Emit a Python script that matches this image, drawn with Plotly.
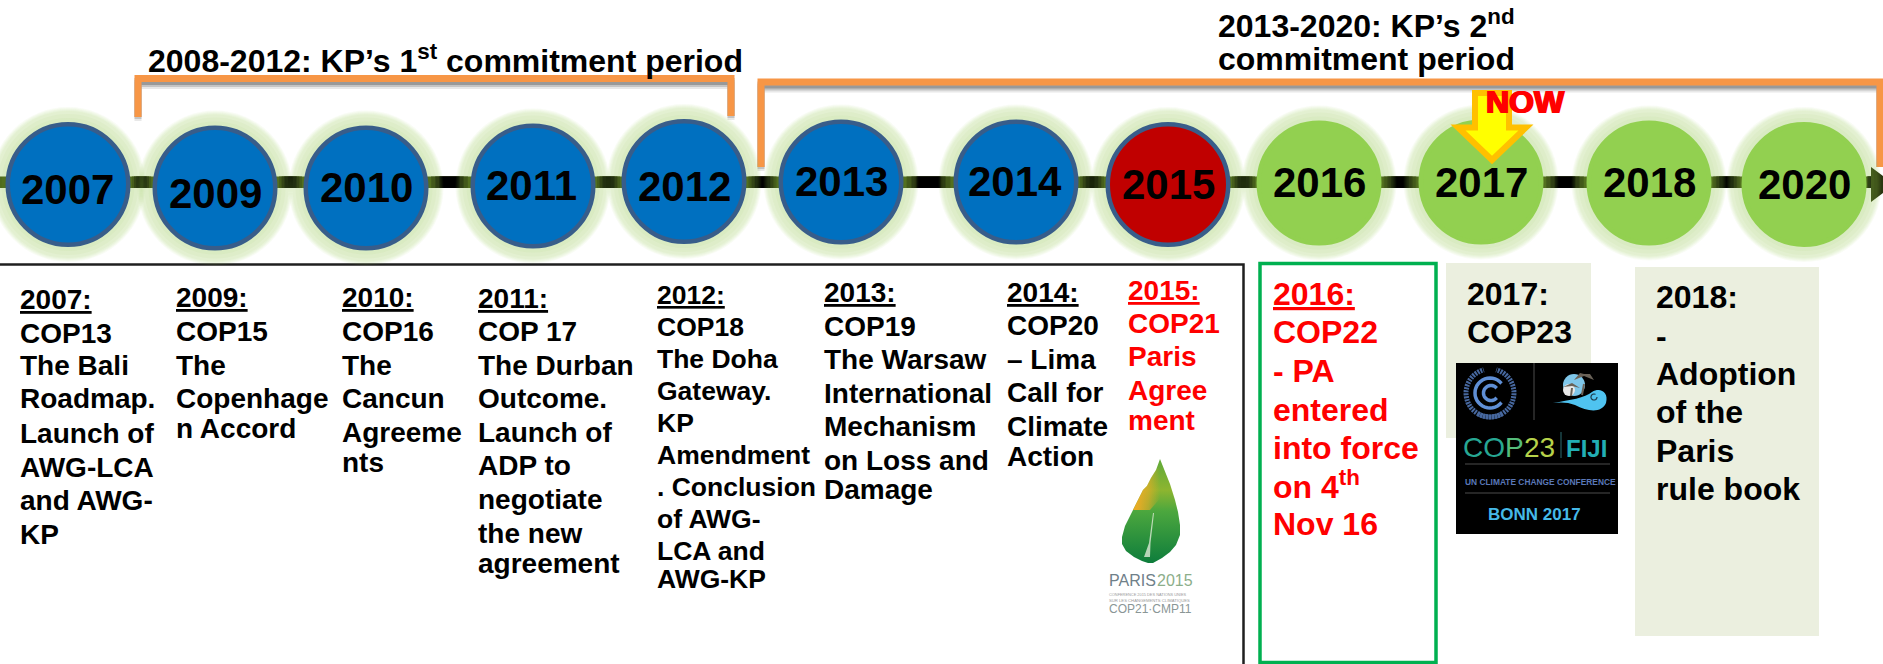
import math
import plotly.graph_objects as go

W, H = 1883, 664
FONT = "Liberation Sans"

# ---- content ----
years = ["2007", "2009", "2010", "2011", "2012", "2013", "2014", "2015", "2016", "2017", "2018", "2020"]
year_kinds = ["past"] * 7 + ["current"] + ["future"] * 4

period_1 = ["2008-2012: KP’s 1<sup>st</sup> commitment period"]
period_2 = ["2013-2020: KP’s 2<sup>nd</sup>", "commitment period"]

block_2007 = ["<u>2007:</u>", "COP13", "The Bali", "Roadmap.", "Launch of", "AWG-LCA", "and AWG-", "KP"]
block_2009 = ["<u>2009:</u>", "COP15", "The", "Copenhage", "n Accord"]
block_2010 = ["<u>2010:</u>", "COP16", "The", "Cancun", "Agreeme", "nts"]
block_2011 = ["<u>2011:</u>", "COP 17", "The Durban", "Outcome.", "Launch of", "ADP to", "negotiate", "the new", "agreement"]
block_2012 = ["<u>2012:</u>", "COP18", "The Doha", "Gateway.", "KP", "Amendment", ". Conclusion", "of AWG-", "LCA and", "AWG-KP"]
block_2013 = ["<u>2013:</u>", "COP19", "The Warsaw", "International", "Mechanism", "on Loss and", "Damage"]
block_2014 = ["<u>2014:</u>", "COP20", "– Lima", "Call for", "Climate", "Action"]
block_2015 = ["<u>2015:</u>", "COP21", "Paris", "Agree", "ment"]
block_2016 = ["<u>2016:</u>", "COP22", "- PA", "entered", "into force", "on 4<sup>th</sup>", "Nov 16"]
block_2017 = ["2017:", "COP23"]
block_2018 = ["2018:", "-", "Adoption", "of the", "Paris", "rule book"]
now_label = "NOW"

# ---- layout (pixel positions on the page) ----
circle_x = [68, 215, 366, 533, 684, 841, 1016, 1168, 1319, 1481, 1649, 1804]
circle_y = [184.5, 188, 188, 186, 181.5, 182, 182, 184.5, 183, 182, 183, 184.5]
year_tx = [67, 215, 366, 531, 684, 841, 1015, 1168, 1319, 1481, 1649, 1804]
year_base = [204, 208, 202, 200, 201, 196, 196, 199, 197, 197, 197, 199]
RADIUS = 62.5
kind_fill = {"past": "#0070C0", "current": "#C00000", "future": "#92D050"}
kind_line = {"past": "#385D8A", "current": "#385D8A", "future": "#92D050"}

blocks = [
    (block_2007, 20, 28, "#000", [309, 343, 375, 408, 443, 477, 510, 544]),
    (block_2009, 175.5, 28, "#000", [307, 341, 375, 408, 438]),
    (block_2010, 342, 28, "#000", [307, 341, 375, 408, 442, 472]),
    (block_2011, 477.5, 28, "#000", [308, 341, 375, 408, 442, 475, 509, 543, 573]),
    (block_2012, 656.5, 26.5, "#000", [304, 336, 368, 400, 432, 464, 496, 528, 560, 588]),
    (block_2013, 823.5, 28, "#000", [302, 336, 369, 403, 436, 470, 499]),
    (block_2014, 1007, 28, "#000", [302, 335, 369, 402, 436, 466]),
    (block_2015, 1128, 28, "#FF0000", [300, 333, 366, 400, 430]),
    (block_2016, 1273, 32, "#FF0000", [305, 343, 382, 421, 459, 496, 535]),
    (block_2017, 1467, 32, "#000", [305, 343]),
    (block_2018, 1656, 32, "#000", [308, 347, 385, 423, 462, 500]),
]

shapes, annotations = [], []


def rect(x0, y0, x1, y1, fill=None, line=None, lw=0):
    shapes.append(dict(type="rect", x0=x0, y0=y0, x1=x1, y1=y1, fillcolor=fill or "rgba(0,0,0,0)",
                       line=dict(color=line or "rgba(0,0,0,0)", width=lw)))


def path(d, fill=None, line=None, lw=0, dash=None):
    ln = dict(color=line or "rgba(0,0,0,0)", width=lw)
    if dash:
        ln["dash"] = dash
    shapes.append(dict(type="path", path=d, fillcolor=fill or "rgba(0,0,0,0)", line=ln))


def circle(cx, cy, r, fill=None, line=None, lw=0):
    shapes.append(dict(type="circle", x0=cx - r, y0=cy - r, x1=cx + r, y1=cy + r,
                       fillcolor=fill or "rgba(0,0,0,0)", line=dict(color=line or "rgba(0,0,0,0)", width=lw)))


def arc(cx, cy, r, a0, a1, n=28):
    pts = []
    for i in range(n + 1):
        a = math.radians(a0 + (a1 - a0) * i / n)
        pts.append(f"{cx + r * math.cos(a):.1f} {cy + r * math.sin(a):.1f}")
    return "M " + " L ".join(pts)


def text(x, base, s, size, color="#000", anchor="left", bold=True, family=FONT, shadow=None):
    font = dict(family=family, size=size, color=color, weight=700 if bold else 400)
    if shadow:
        font["shadow"] = shadow
    annotations.append(dict(x=x, y=base - 0.3465 * size, text=s, showarrow=False, xanchor=anchor, yanchor="middle",
                            font=font, borderpad=0, borderwidth=0, align="left"))


# panels behind text
rect(1446, 263, 1591, 438, fill="#EBEFDF")
rect(1635, 267, 1819, 636, fill="#EBEFDF")
path("M -5 264.5 L 1243.5 264.5 L 1243.5 670", line="#1f1f1f", lw=2.5)
rect(1260, 263.5, 1436, 662.5, line="#00B050", lw=3.5)

# timeline bar
LINE_Y0, LINE_Y1 = 176.5, 188
rect(0, LINE_Y0, 1873, LINE_Y1, fill="#3A4A10")
edges = [0] + [v for x in circle_x for v in (x - RADIUS, x + RADIUS)] + [1873]
for a, b in zip(edges[0::2], edges[1::2]):
    g = b - a
    if a == 0:
        continue
    for frac, col in ((0.44, "#262F0B"), (0.34, "#121505"), (0.24, "#000000")):
        mid = (a + b) / 2
        rect(mid - g * frac, LINE_Y0, mid + g * frac, LINE_Y1, fill=col)
path("M 1871 167 L 1883 176 L 1883 193 L 1871 202 Z", fill="#2A3510")

# brackets with soft shadow
ORANGE = "#F79646"
for off, col in ((7, "rgba(150,150,150,0.22)"), (5, "rgba(130,130,130,0.35)"), (3, "rgba(110,110,110,0.5)")):
    path(f"M 138 {117 + off - 3} L 138 {78.5 + off} L 731 {78.5 + off} L 731 {116 + off - 3}", line=col, lw=7)
    path(f"M 761 {167 + off - 3} L 761 {82 + off} L 1880 {82 + off} L 1880 {167}", line=col, lw=7)
path("M 138 117 L 138 78.5 L 731 78.5 L 731 116", line=ORANGE, lw=7)
path("M 761 167 L 761 82 L 1880 82 L 1880 167", line=ORANGE, lw=7)

# circles with glow
for x, y, k in zip(circle_x, circle_y, year_kinds):
    for dr in (15, 14, 13, 12, 11, 8, 4):
        circle(x, y, RADIUS + dr, fill="rgba(146,208,80,0.055)")
for x, y, k in zip(circle_x, circle_y, year_kinds):
    circle(x, y, RADIUS - 2.25, fill=kind_fill[k], line=kind_line[k], lw=4.5)
for lab, x, b in zip(years, year_tx, year_base):
    text(x, b, lab, 42, anchor="center")

# period titles
text(148, 70.5, period_1[0], 32)
text(1218, 35.5, period_2[0], 32)
text(1218, 70, period_2[1], 32)

# now arrow
path("M 1475 93 L 1509 93 L 1509 127.5 L 1526 127.5 L 1492 160 L 1458 127.5 L 1475 127.5 Z",
     fill="#FFFF00", line="#FFC000", lw=6)
text(1525.5, 113, now_label, 32, color="#FF0000", anchor="center", shadow="1px 0 0 #FF0000, -1px 0 0 #FF0000")

# text blocks
for lines, x, size, color, bases in blocks:
    for s, b in zip(lines, bases):
        text(x, b, s, size, color=color)

# COP23 logo
rect(1456, 363, 1618, 534, fill="#000000")
shapes.append(dict(type="line", x0=1534, x1=1534, y0=363, y1=420, line=dict(color="#333333", width=1.5)))
path(arc(1490, 393, 24, 60, 255), line="#47689f", lw=5, dash="2px,1px")
path(arc(1490, 393, 24, 120, -75), line="#47689f", lw=5, dash="2px,1px")
path(arc(1490, 393, 15, 40, 320), line="#5f8fd6", lw=3.5)
path(arc(1491, 393, 7.5, 40, 320), line="#5f8fd6", lw=3.5)
circle(1574, 385, 11, fill="#7fc7ea")
circle(1569, 390, 6, fill="#e8e8e8")
path("M 1584 384 L 1582 395", line="#6a6258", lw=2)
path("M 1572 388 L 1571 396", line="#6a6258", lw=2)
path("M 1574 380 L 1584 376 L 1594 380 L 1590 374 L 1584 374 L 1580 373 Z", fill="#6a6258")
path("M 1563 387 L 1572 383 L 1580 388 L 1572 386 Z", fill="#6a6258")
path("M 1553 403 C 1570 400 1585 398 1592 392 C 1600 387 1609 392 1606 403 C 1602 413 1588 412 1575 405 C 1568 402 1560 402 1553 403 Z",
     fill="#4FC3F0")
path(arc(1594, 397, 3, 0, 300), line="#1d3a4a", lw=1.2)
for y in (464, 493):
    shapes.append(dict(type="line", x0=1465, x1=1610, y0=y, y1=y, line=dict(color="#333333", width=1.5)))
shapes.append(dict(type="line", x0=1561, x1=1561, y0=432, y1=458, line=dict(color="#2a6a70", width=1)))
text(1463, 457, "CO", 28, color="#27A793", bold=False)
text(1505, 457, "P", 28, color="#55BC7A", bold=False)
text(1524, 457, "23", 28, color="#B6D24A", bold=False)
text(1566, 457, "FIJI", 24, color="#22AEB4", bold=True)
text(1465, 485, "UN CLIMATE CHANGE CONFERENCE", 8.4, color="#5A78B8")
text(1488, 520, "BONN 2017", 17, color="#45B9E8")

# Paris logo
leaf_x = [1160, 1156, 1151, 1147, 1143, 1141, 1137, 1130, 1125, 1122, 1122, 1126, 1134, 1142, 1148, 1153, 1162, 1170,
          1176, 1180, 1180, 1178, 1175, 1170, 1166, 1163, 1160]
leaf_y = [459, 470, 478, 486, 490, 494, 502, 516, 526, 537, 544, 551, 557, 561, 563, 563, 558, 552,
          545, 535, 525, 512, 500, 484, 474, 466, 459]
blush_x = [1156, 1151, 1147, 1143, 1141, 1137, 1133, 1150, 1163, 1166, 1160]
blush_y = [470, 478, 486, 490, 494, 502, 510, 510, 495, 480, 466]
traces = [
    go.Scatter(x=leaf_x, y=leaf_y, mode="lines", line=dict(width=0), fill="toself", hoverinfo="skip",
               fillgradient=dict(type="vertical", start=459, stop=563,
                                 colorscale=[[0, "#5FAA3A"], [0.3, "#8DB530"], [0.5, "#4CA73E"], [1, "#0E7D3C"]])),
    go.Scatter(x=blush_x, y=blush_y, mode="lines", line=dict(width=0), fill="toself", hoverinfo="skip",
               fillgradient=dict(type="horizontal", start=1137, stop=1160,
                                 colorscale=[[0, "rgba(240,172,36,0.95)"], [0.5, "rgba(240,172,36,0.6)"],
                                             [1, "rgba(240,172,36,0)"]])),
]
path("M 1154 513 L 1153 513 L 1149 543 L 1144 557 L 1150 557 L 1150.5 543 Z", fill="rgba(235,240,225,0.75)")
text(1108.5, 586, "PARIS", 16, color="#6F8089", bold=False)
text(1157, 586, "2015", 16, color="#8CAE8A", bold=False)
text(1108.5, 596, "CONFERENCE 2015 DES NATIONS UNIES", 3.9, color="#9A9A9A", bold=False)
text(1108.5, 601.5, "SUR LES CHANGEMENTS CLIMATIQUES", 4.2, color="#9A9A9A", bold=False)
text(1108.5, 613, "COP21·CMP11", 12, color="#8A9696", bold=False)

fig = go.Figure(traces)
fig.update_layout(width=W, height=H, margin=dict(l=0, r=0, t=0, b=0), paper_bgcolor="white", plot_bgcolor="white",
                  showlegend=False, shapes=shapes, annotations=annotations,
                  xaxis=dict(range=[0, W], visible=False, fixedrange=True),
                  yaxis=dict(range=[H, 0], visible=False, fixedrange=True))
fig.write_html("out.html", config={"displayModeBar": False},
               post_script="document.body.style.margin='0';document.body.style.overflow='hidden';")
